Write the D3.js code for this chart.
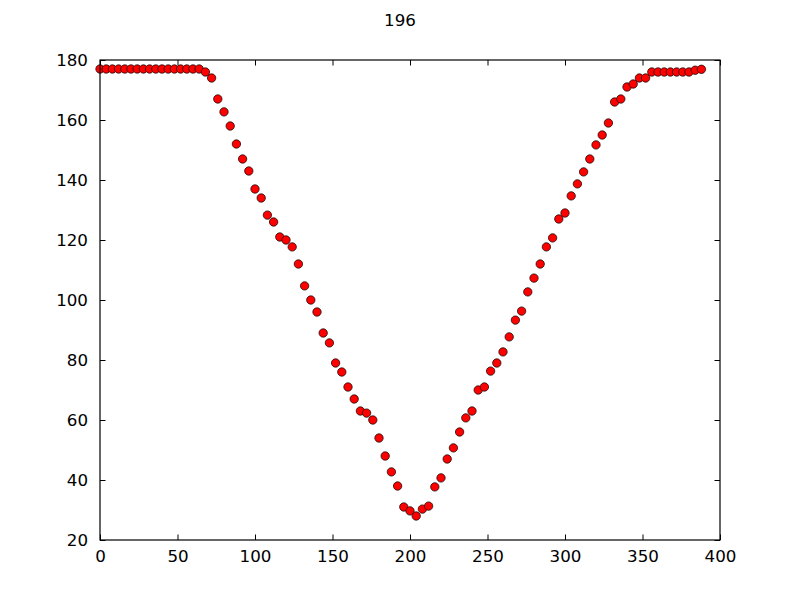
<!DOCTYPE html>
<html>
<head>
<meta charset="utf-8">
<script src="https://cdn.jsdelivr.net/npm/d3@7"></script>
<style>
  body { margin: 0; background: #fff; }
  svg { display: block; }
  text { font-family: "DejaVu Sans", sans-serif; }
</style>
</head>
<body>
<svg id="chart" width="800" height="600"></svg>
<script>
const title = "196";
const xValues = [
  0, 4, 8, 12, 16, 20, 24, 28, 32, 36, 40, 44, 48, 52, 56, 60, 64, 68, 72, 76,
  80, 84, 88, 92, 96, 100, 104, 108, 112, 116, 120, 124, 128, 132, 136, 140, 144, 148, 152, 156,
  160, 164, 168, 172, 176, 180, 184, 188, 192, 196, 200, 204, 208, 212, 216, 220, 224, 228, 232, 236,
  240, 244, 248, 252, 256, 260, 264, 268, 272, 276, 280, 284, 288, 292, 296, 300, 304, 308, 312, 316,
  320, 324, 328, 332, 336, 340, 344, 348, 352, 356, 360, 364, 368, 372, 376, 380, 384, 388
];
const yValues = [
  177, 177, 177, 177, 177, 177, 177, 177, 177, 177, 177, 177, 177, 177, 177, 177, 177, 176, 174, 167,
  162.7, 158, 152, 147, 143, 137, 134, 128.3, 126, 121, 120, 117.7, 112, 104.7, 100, 96, 89, 85.7, 79, 76,
  71, 67, 63, 62.3, 60, 54, 48, 42.7, 38, 31, 29.7, 28, 30.3, 31.3, 37.7, 40.7, 47, 50.7, 56, 60.7,
  63, 70, 71, 76.3, 79, 82.7, 87.7, 93.3, 96.3, 102.7, 107.3, 112, 117.7, 120.7, 127, 129, 134.7, 138.7, 142.7, 147,
  151.7, 155, 159, 166, 167, 171, 172, 174, 174, 176, 176, 176, 176, 176, 176, 176, 176.6, 176.9
];
const xTicks = [0, 50, 100, 150, 200, 250, 300, 350, 400];
const yTicks = [20, 40, 60, 80, 100, 120, 140, 160, 180];

const data = xValues.map((x, i) => ({ x, y: yValues[i] }));

const svg = d3.select("#chart");
const margin = { left: 100, right: 80, top: 60, bottom: 60 };
const W = 800, H = 600;
const iw = W - margin.left - margin.right;
const ih = H - margin.top - margin.bottom;

const x = d3.scaleLinear().domain([0, 400]).range([0, iw]);
const y = d3.scaleLinear().domain([20, 180]).range([ih, 0]);

const g = svg.append("g").attr("transform", `translate(${margin.left},${margin.top})`);

const fontSize = "16.7px";
const tickLen = 5.5;

// bottom axis (ticks inside)
const xAxisB = d3.axisBottom(x).tickValues(xTicks).tickFormat(d3.format("d"))
  .tickSizeInner(-tickLen).tickSizeOuter(0).tickPadding(10);
g.append("g").attr("transform", `translate(0,${ih})`).call(xAxisB)
  .call(a => a.select(".domain").remove())
  .call(a => a.selectAll("text").attr("font-size", fontSize).attr("fill", "#000").attr("font-family", "DejaVu Sans"));
// top axis ticks
const xAxisT = d3.axisTop(x).tickValues(xTicks).tickFormat("")
  .tickSizeInner(-tickLen).tickSizeOuter(0);
g.append("g").call(xAxisT).call(a => a.select(".domain").remove());

// left axis
const yAxisL = d3.axisLeft(y).tickValues(yTicks).tickFormat(d3.format("d"))
  .tickSizeInner(-tickLen).tickSizeOuter(0).tickPadding(12);
g.append("g").call(yAxisL)
  .call(a => a.select(".domain").remove())
  .call(a => a.selectAll("text").attr("font-size", fontSize).attr("fill", "#000").attr("font-family", "DejaVu Sans"));
// right axis ticks
const yAxisR = d3.axisRight(y).tickValues(yTicks).tickFormat("")
  .tickSizeInner(-tickLen).tickSizeOuter(0);
g.append("g").attr("transform", `translate(${iw},0)`).call(yAxisR)
  .call(a => a.select(".domain").remove());

g.selectAll(".tick line").attr("stroke", "#000").attr("stroke-width", 1);

// points
g.append("g").selectAll("circle").data(data).join("circle")
  .attr("cx", d => x(d.x))
  .attr("cy", d => y(d.y))
  .attr("r", 4.2)
  .attr("fill", "#ff0000")
  .attr("stroke", "#000")
  .attr("stroke-width", 0.7);

// frame
g.append("rect").attr("x", 0).attr("y", 0).attr("width", iw).attr("height", ih)
  .attr("fill", "none").attr("stroke", "#000").attr("stroke-width", 1.2);

// title
svg.append("text").attr("x", W / 2).attr("y", 26).attr("text-anchor", "middle")
  .attr("font-size", "16.7px").attr("fill", "#000").text(title);
</script>
</body>
</html>
